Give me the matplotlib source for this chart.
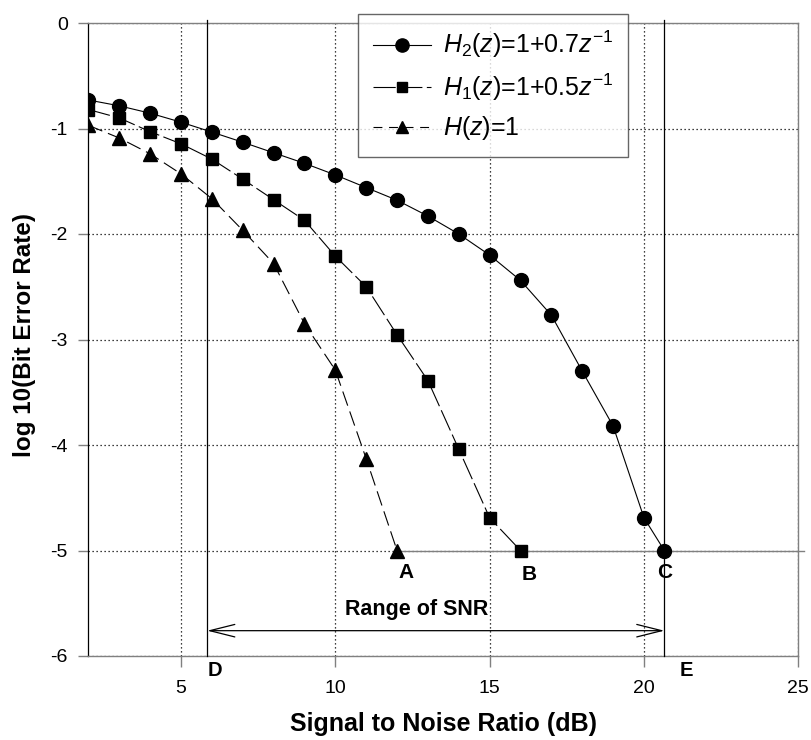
import matplotlib
matplotlib.use("Agg")
import matplotlib.pyplot as plt
from matplotlib.lines import Line2D

plt.rcParams['font.family'] = ['Liberation Sans', 'DejaVu Sans']
plt.rcParams['axes.unicode_minus'] = False
plt.rcParams['mathtext.fontset'] = 'custom'
plt.rcParams['mathtext.rm'] = 'Liberation Sans'
plt.rcParams['mathtext.it'] = 'Liberation Sans:italic'
plt.rcParams['mathtext.bf'] = 'Liberation Sans:bold'

# ---- data ----
snr_h2 = [2, 3, 4, 5, 6, 7, 8, 9, 10, 11, 12, 13, 14, 15, 16, 17, 18, 19, 20, 20.66]
ber_h2 = [-0.73, -0.785, -0.855, -0.94, -1.034, -1.13, -1.23, -1.33, -1.44, -1.56,
          -1.68, -1.83, -2.0, -2.2, -2.44, -2.77, -3.30, -3.82, -4.69, -5.0]
snr_h1 = [2, 3, 4, 5, 6, 7, 8, 9, 10, 11, 12, 13, 14, 15, 16]
ber_h1 = [-0.82, -0.90, -1.03, -1.145, -1.29, -1.48, -1.675, -1.87, -2.21, -2.50,
          -2.955, -3.39, -4.04, -4.69, -5.0]
snr_h0 = [2, 3, 4, 5, 6, 7, 8, 9, 10, 11, 12]
ber_h0 = [-0.97, -1.09, -1.24, -1.43, -1.665, -1.965, -2.28, -2.85, -3.29, -4.13, -5.0]

labels = [r'$H_2(z)$=1+0.7$z^{-1}$', r'$H_1(z)$=1+0.5$z^{-1}$', r'$H(z)$=1']
xticks = [5, 10, 15, 20, 25]
yticks = [0, -1, -2, -3, -4, -5, -6]

snr_d = 5.85      # D
snr_e = 20.66     # E
ber_floor = -5.0
arrow_y = -5.76

point_labels = ['A', 'B', 'C']
point_x = [12.3, 16.27, 20.67]
point_y = [-5.21, -5.23, -5.21]

# ---- figure ----
fig = plt.figure(figsize=(8.11, 7.4), dpi=100)
ax = fig.add_axes([88.4 / 811, (740 - 656) / 740, 709.9 / 811, 633 / 740])
ax.set_xlim(2, 25)
ax.set_ylim(-6, 0)

gray = '#808080'
for s in ['top', 'right', 'bottom']:
    ax.spines[s].set_color(gray)
    ax.spines[s].set_linewidth(1.0)
ax.spines['left'].set_color('black')
ax.spines['left'].set_linewidth(0.9)

ax.set_xticks(xticks)
ax.set_yticks(yticks)
ax.set_yticklabels([str(v) for v in yticks])
ax.tick_params(axis='x', direction='out', length=8, width=1, color=gray,
               labelsize=14, pad=9)
ax.tick_params(axis='y', direction='out', length=7.2, width=1, color=gray,
               labelsize=14, pad=7.5)
ax.grid(True, color='black', linestyle=(0, (1, 2.2)), linewidth=0.9)
ax.set_axisbelow(True)

# curves
dash_h1 = (20, 4)
dash_h0 = (13.5, 5.5)
ax.plot(snr_h2, ber_h2, color='black', lw=0.8, marker='o', markersize=10,
        markerfacecolor='black', markeredgecolor='black', zorder=5)
ax.plot(snr_h1, ber_h1, color='black', lw=0.8, dashes=dash_h1, marker='s',
        markersize=8.5, markerfacecolor='black', markeredgecolor='black', zorder=5)
ax.plot(snr_h0, ber_h0, color='black', lw=0.8, dashes=dash_h0, marker='^',
        markersize=9.5, markerfacecolor='black', markeredgecolor='black', zorder=5)

# floor line and range lines
ax.plot([snr_h0[-1], 25.2], [ber_floor, ber_floor], color=gray, lw=1.0,
        clip_on=False, zorder=3)
ax.plot([snr_d, snr_d], [-6, 0.03], color='black', lw=0.9, clip_on=False, zorder=4)
ax.plot([snr_e, snr_e], [-6, 0.03], color='black', lw=0.9, clip_on=False, zorder=4)

ax.annotate('', xy=(snr_e, arrow_y), xytext=(snr_d, arrow_y),
            arrowprops=dict(arrowstyle='<->,head_length=1.8,head_width=0.45',
                            mutation_scale=10, lw=0.9, color='black',
                            shrinkA=0, shrinkB=0), zorder=4)

for t, x, y in zip(point_labels, point_x, point_y):
    ax.text(x, y, t, ha='center', va='center', fontsize=15, fontweight='bold', zorder=6)
ax.text(12.65, -5.555, 'Range of SNR', ha='center', va='center', fontsize=15.5,
        fontweight='bold')
ax.text(6.1, -6.142, 'D', ha='center', va='center', fontsize=14.5, fontweight='bold',
        clip_on=False)
ax.text(21.36, -6.142, 'E', ha='center', va='center', fontsize=14.5, fontweight='bold',
        clip_on=False)

ax.set_xlabel('Signal to Noise Ratio (dB)', fontsize=18, fontweight='bold')
ax.xaxis.label.set_verticalalignment('center')
ax.xaxis.set_label_coords(0.5, (656 - 724) / 633)
ax.set_ylabel('log 10(Bit Error Rate)', fontsize=17.5, fontweight='bold')
ax.yaxis.label.set_verticalalignment('center')
ax.yaxis.label.set_horizontalalignment('center')
ax.yaxis.set_label_coords((25 - 88.4) / 709.9, (656 - 335) / 633)

# legend
handles = [
    Line2D([], [], color='black', lw=0.8, marker='o', markersize=9.5),
    Line2D([], [], color='black', lw=0.8, dashes=dash_h1, marker='s', markersize=7),
    Line2D([], [], color='black', lw=0.8, dashes=(8, 6), marker='^', markersize=8.5),
]
leg = ax.legend(handles, labels, loc='upper left',
                bbox_to_anchor=((358 - 88.4) / 709.9, (656 - 14) / 633),
                borderaxespad=0, fontsize=18, frameon=True, fancybox=False,
                handlelength=2.3, handletextpad=0.5, labelspacing=0.45,
                borderpad=0.6)
leg.get_frame().set_edgecolor('#404040')
leg.get_frame().set_linewidth(1.0)
leg.set_zorder(10)

fig.savefig('out.png', dpi=100)
